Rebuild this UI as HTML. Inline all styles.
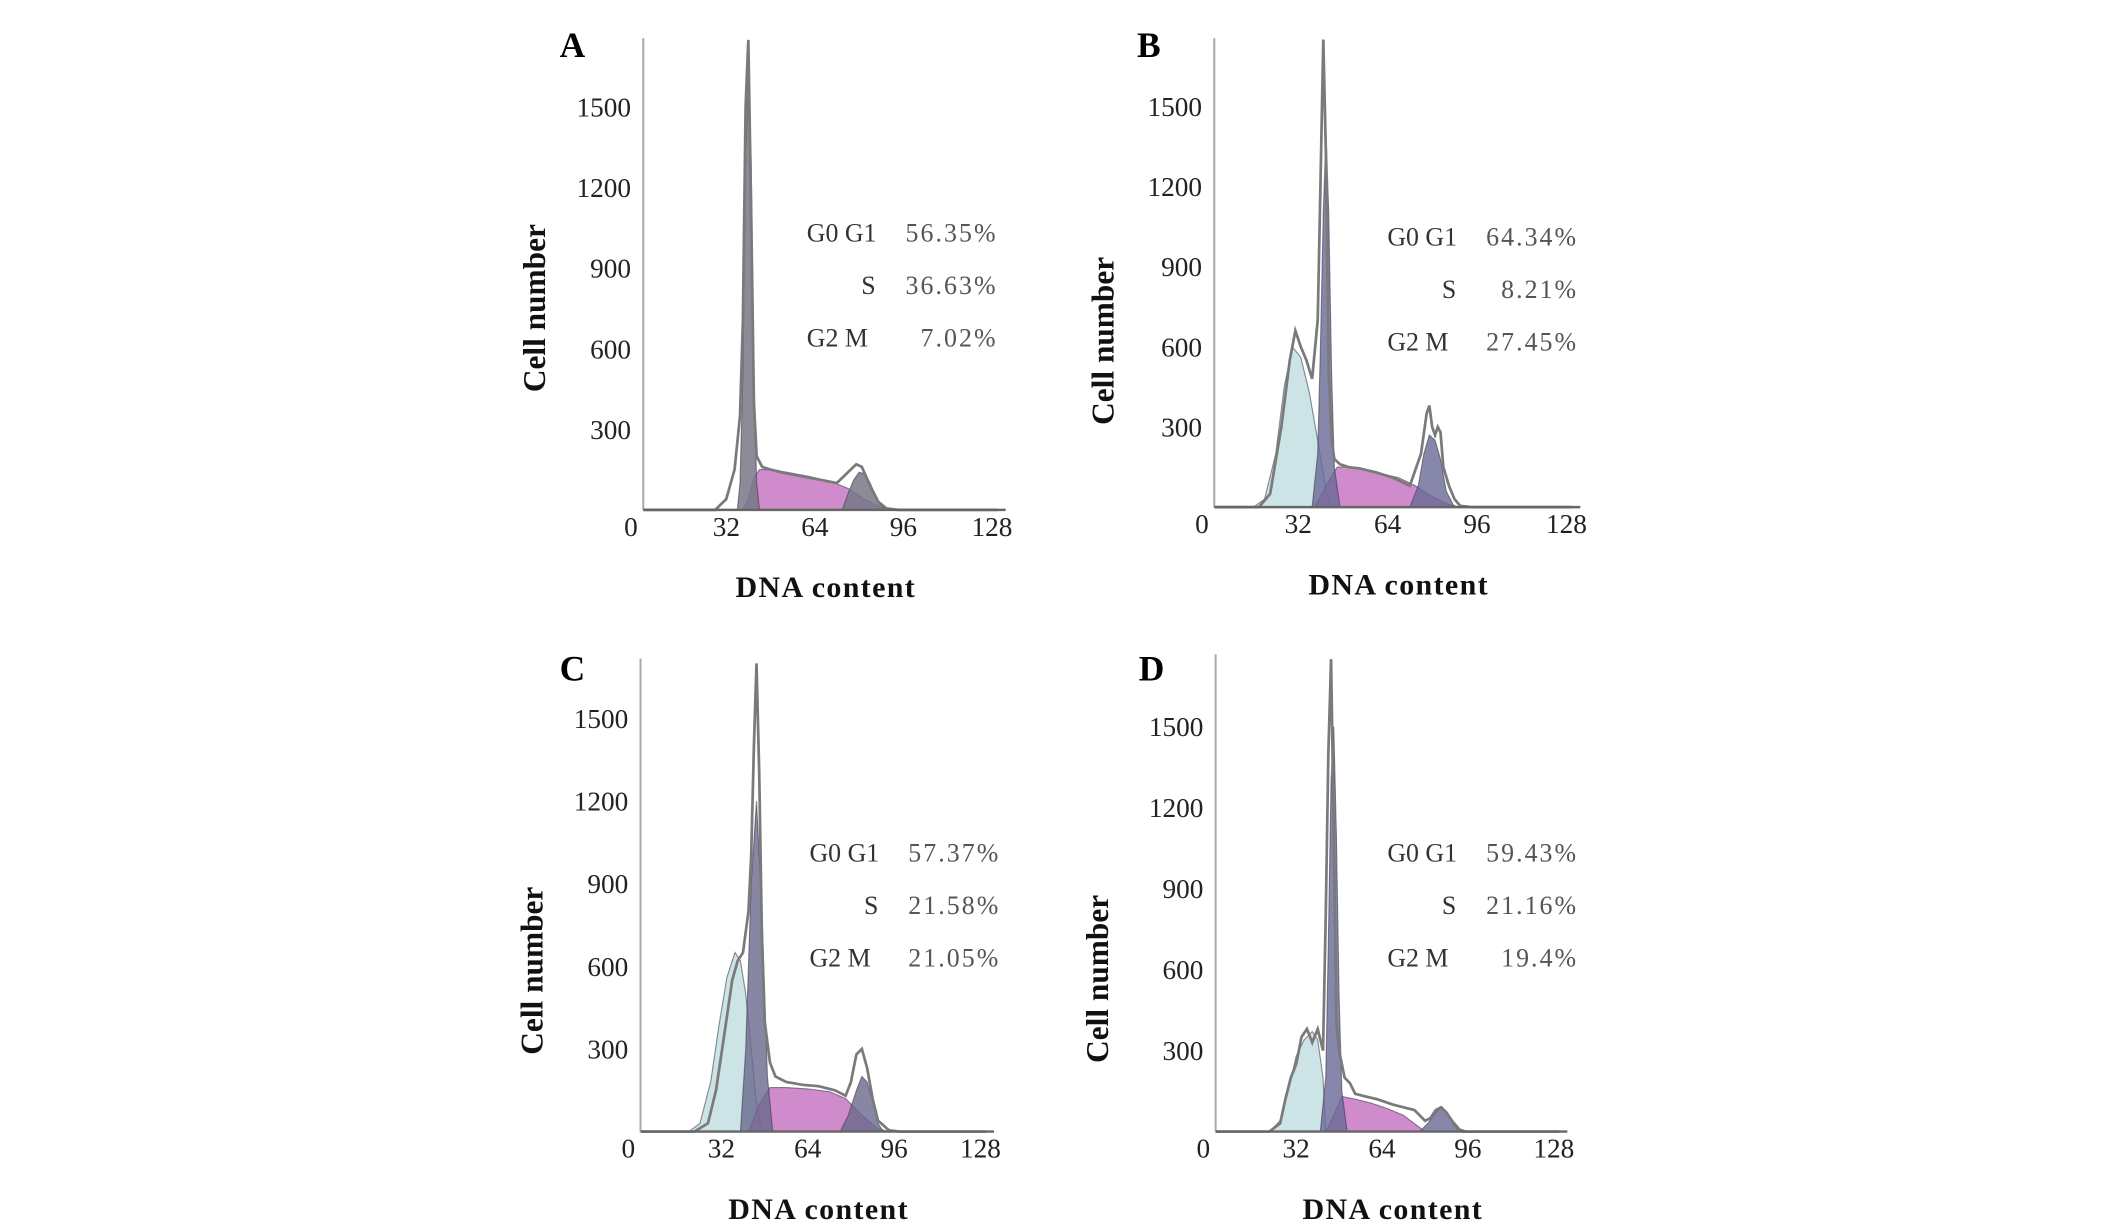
<!DOCTYPE html>
<html><head><meta charset="utf-8"><style>
html,body{margin:0;padding:0;background:#fff;}
svg{display:block;}
text{font-family:"Liberation Serif",serif;}
</style></head><body>
<svg id="fig" width="2126" height="1227" viewBox="0 0 1560 900" preserveAspectRatio="none" xmlns="http://www.w3.org/2000/svg"></svg>
<script>
// Tick labels
const xTicks=[0,32,64,96,128];
const yTicks=[300,600,900,1200,1500];
// Panel A data
const aTotX=[0,26,30,33,35,36,37,38,39,40,41,43,46,50,55,60,65,70,74,77,79,82,85,88,92,128];
const aTotY=[0,0,40,150,350,700,1500,1750,1100,400,200,160,150,140,130,120,110,100,140,170,160,90,30,5,0,0];
const aSubX=[];const aSubY=[];
const aG1X=[34,35,36,37,38,39,40,41,42];const aG1Y=[0,100,500,1300,1600,1300,500,100,0];
const aSX=[36,38,40,42,46,52,60,68,74,80,86,90];const aSY=[0,40,120,150,150,140,125,105,80,40,10,0];
const aG2X=[72,74,76,78,80,82,84,86,88];const aG2Y=[0,60,110,140,135,100,50,15,0];
const aStats=["56.35%","36.63%","7.02%"];
// Panel B data
const bTotX=[0,16,20,24,27,29,31,33,35,37,38,39,40,41,42,43,45,48,52,58,64,70,74,76,77,78,79,80,81,82,84,86,88,92,128];
const bTotY=[0,0,50,300,550,660,600,550,480,700,1200,1750,1300,500,250,180,160,150,145,130,110,80,200,350,380,300,270,300,280,150,80,30,5,0,0];
const bSubX=[14,18,22,25,28,31,34,37,40,42];const bSubY=[0,30,200,450,600,560,430,250,60,0];
const bG1X=[35,37,38,39,40,41,42,43,45];const bG1Y=[0,200,600,1100,1400,1100,500,150,0];
const bSX=[36,40,44,50,58,66,72,78,84,88];const bSY=[0,80,150,150,130,110,80,40,10,0];
const bG2X=[70,73,75,77,79,81,83,86];const bG2Y=[0,80,200,270,250,180,60,0];
const bStats=["64.34%","8.21%","27.45%"];
// Panel C data
const cTotX=[0,20,25,28,31,34,36,38,40,41,42,43,44,45,46,48,50,54,60,66,72,76,78,80,82,84,86,88,92,96,128];
const cTotY=[0,0,30,150,350,550,620,650,800,1000,1400,1700,1300,700,400,250,200,180,170,165,150,130,180,280,300,230,120,40,5,0,0];
const cSubX=[18,22,26,29,32,35,37,39,41,43,45];const cSubY=[0,30,180,380,560,650,620,500,300,100,0];
const cG1X=[37,39,41,43,45,47,49];const cG1Y=[0,300,900,1200,800,200,0];
const cSX=[40,44,48,54,62,70,76,82,88,92];const cSY=[0,100,160,160,155,145,120,60,10,0];
const cG2X=[74,77,80,82,84,86,88,90];const cG2Y=[0,60,150,200,180,110,30,0];
const cStats=["57.37%","21.58%","21.05%"];
// Panel D data
const dTotX=[0,20,24,26,28,30,32,34,36,38,40,41,42,43,44,45,46,47,48,50,52,56,60,66,70,74,76,78,80,82,84,86,88,90,92,128];
const dTotY=[0,0,30,120,200,250,350,380,330,380,300,800,1400,1750,1100,400,300,250,200,180,140,130,120,100,90,80,60,40,50,80,90,70,40,10,0,0];
const dSubX=[20,24,27,30,33,36,38,40,41];const dSubY=[0,40,150,280,340,370,340,200,0];
const dG1X=[39,41,42,43,44,45,46,47,49];const dG1Y=[0,200,700,1300,1500,1100,500,150,0];
const dSX=[41,44,47,52,58,64,70,74,78];const dSY=[0,60,130,120,105,85,60,30,0];
const dG2X=[76,79,82,84,86,88,91,94];const dG2Y=[0,30,70,90,75,45,10,0];
const dStats=["59.43%","21.16%","19.4%"];

const NS="http://www.w3.org/2000/svg";
const svg=document.getElementById('fig');
function mk(tag,attrs,parent){const e=document.createElementNS(NS,tag);for(const k in attrs)e.setAttribute(k,attrs[k]);(parent||svg).appendChild(e);return e;}

const panels=[
 {id:'a',L:'A',ax:472,base:374,top:28,xs:2.03,ys:0.197,lx:420,ly:42,ylx:400,yly:226,stx:592,sty:177,d:[aTotX,aTotY,aSubX,aSubY,aG1X,aG1Y,aSX,aSY,aG2X,aG2Y],st:aStats,g1:'rgba(120,120,135,0.85)',g2:'rgba(120,120,135,0.85)'},
 {id:'b',L:'B',ax:891,base:372,top:28,xs:2.05,ys:0.196,lx:843,ly:42,ylx:817,yly:250,stx:1018,sty:180,d:[bTotX,bTotY,bSubX,bSubY,bG1X,bG1Y,bSX,bSY,bG2X,bG2Y],st:bStats,g1:'rgba(105,105,150,0.8)',g2:'rgba(105,105,150,0.8)'},
 {id:'c',L:'C',ax:470,base:830,top:483,xs:1.98,ys:0.202,lx:420,ly:499,ylx:398,yly:712,stx:594,sty:632,d:[cTotX,cTotY,cSubX,cSubY,cG1X,cG1Y,cSX,cSY,cG2X,cG2Y],st:cStats,g1:'rgba(105,105,140,0.8)',g2:'rgba(105,105,140,0.8)'},
 {id:'d',L:'D',ax:892,base:830,top:480,xs:1.97,ys:0.198,lx:845,ly:499,ylx:813,yly:718,stx:1018,sty:632,d:[dTotX,dTotY,dSubX,dSubY,dG1X,dG1Y,dSX,dSY,dG2X,dG2Y],st:dStats,g1:'rgba(105,105,150,0.8)',g2:'rgba(105,105,150,0.8)'}
];

panels.forEach(p=>{
 const g=mk('g',{});
 
 
 const X=v=>p.ax+v*p.xs, Y=v=>p.base-v*p.ys;
 function area(xs,ys,fill,name){
  if(!xs.length)return;
  let pts=xs.map((x,i)=>X(x).toFixed(1)+','+Y(ys[i]).toFixed(1)).join(' ');
  const e=mk('polygon',{points:pts,fill:fill,stroke:'rgba(60,60,80,0.6)','stroke-width':0.8},g);
  
  
 }
 const [tx,ty,sx,sy,g1x,g1y,ssx,ssy,g2x,g2y]=p.d;
 area(sx,sy,'rgba(200,225,228,0.9)','sub-g1-peak');
 area(ssx,ssy,'rgba(195,110,190,0.8)','s-phase-area');
 area(g1x,g1y,p.g1,'g0-g1-peak');
 area(g2x,g2y,p.g2,'g2-m-peak');
 const tl=mk('polyline',{points:tx.map((x,i)=>X(x).toFixed(1)+','+Y(ty[i]).toFixed(1)).join(' '),fill:'none',stroke:'#7a7a7a','stroke-width':2},g);
 
 
 // axes
 const ya=mk('line',{x1:p.ax,y1:p.top,x2:p.ax,y2:p.base,stroke:'#aaa','stroke-width':1.5},g);
 
 
 const xa=mk('line',{x1:p.ax,y1:p.base,x2:X(131),y2:p.base,stroke:'#666','stroke-width':1.8},g);
 
 
 xTicks.forEach(v=>{
  const t=mk('text',{x:v===0?p.ax-9:X(v)-4,y:p.base+19,'font-size':20,'text-anchor':'middle',fill:'#222'},g);
  t.textContent=v;
  
  
 });
 yTicks.forEach(v=>{
  const t=mk('text',{x:p.ax-9,y:Y(v)+7,'font-size':20,'text-anchor':'end',fill:'#222'},g);
  t.textContent=v;
  
  
 });
 const L=mk('text',{x:p.lx,y:p.ly,'font-size':26,'font-weight':'bold','text-anchor':'middle',fill:'#000'},g);
 L.textContent=p.L;
 
 
 const yl=mk('text',{x:p.ylx,y:p.yly,'font-size':23,'font-weight':'bold','text-anchor':'middle',fill:'#111',transform:'rotate(-90 '+p.ylx+' '+p.yly+')'},g);
 yl.textContent='Cell number';
 
 
 const xl=mk('text',{x:X(66),y:p.base+64,'font-size':22,'font-weight':'bold','text-anchor':'middle',fill:'#111','letter-spacing':1},g);
 xl.textContent='DNA content';
 
 
 const labs=['G0  G1 ','S','G2  M'];
 labs.forEach((lb,i)=>{
  const yy=p.sty+i*38.5;
  const t1=mk('text',{x:i===1?p.stx+40:p.stx,y:yy,'font-size':19,fill:'#333','xml:space':'preserve'},g);
  t1.textContent=lb;
  
  
  const t2=mk('text',{x:p.stx+140,y:yy,'font-size':19,fill:'#555','text-anchor':'end','letter-spacing':1.5},g);
  t2.textContent=p.st[i];
  
  
 });
});
</script>
</body></html>
